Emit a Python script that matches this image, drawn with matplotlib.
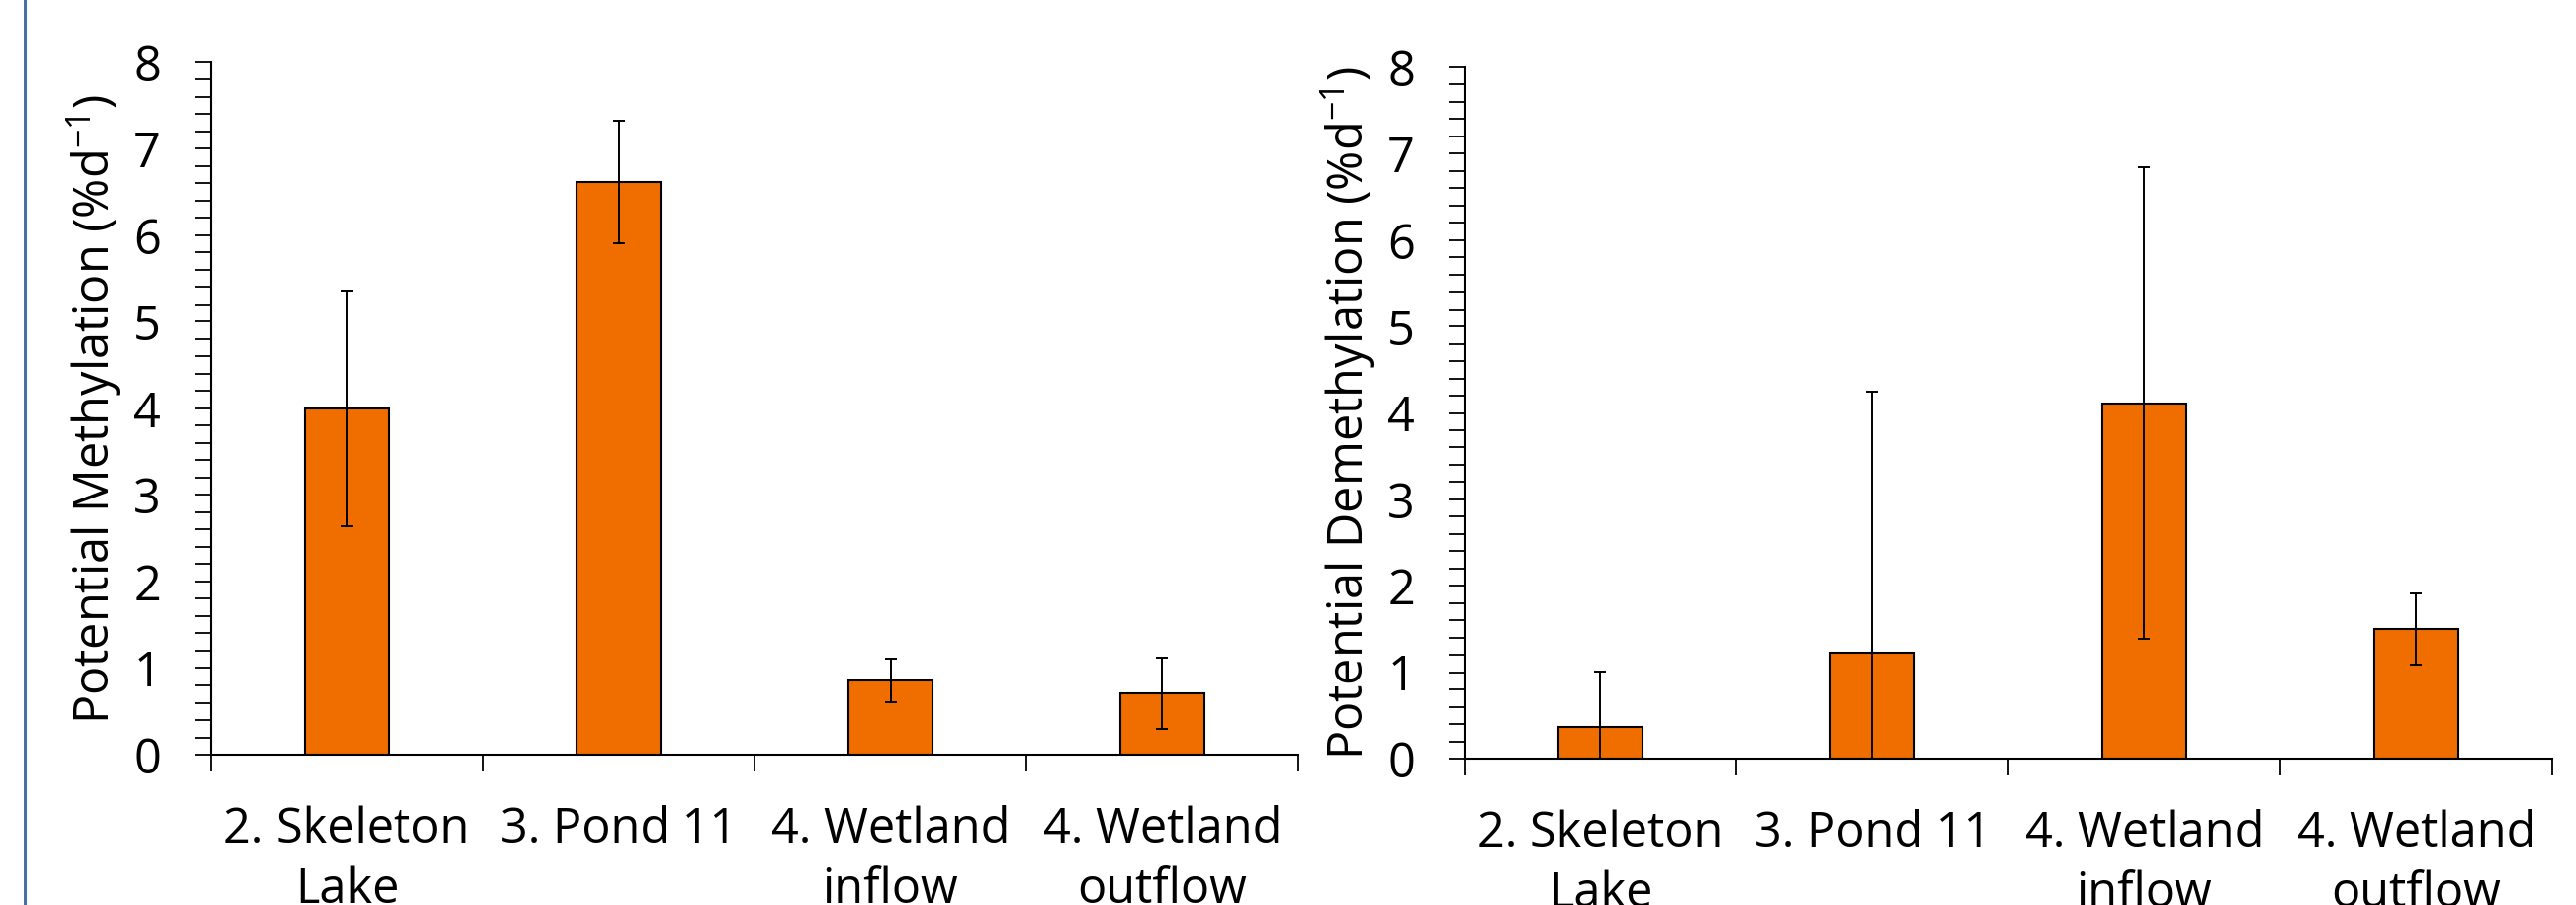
import numpy as np
import matplotlib
matplotlib.use('Agg')
import matplotlib.pyplot as plt
from matplotlib.lines import Line2D
from matplotlib.ticker import MultipleLocator, FixedLocator, NullFormatter

sites = ['2. Skeleton\nLake', '3. Pond 11', '4. Wetland\ninflow', '4. Wetland\noutflow']

meth_mean = [4.00, 6.62, 0.86, 0.71]
meth_err = [1.36, 0.71, 0.25, 0.41]

demeth_mean = [0.37, 1.23, 4.11, 1.50]
demeth_err = [0.64, 3.02, 2.73, 0.41]

ylabels = ['Potential Methylation (%d$^{-1}$)', 'Potential Demethylation (%d$^{-1}$)']

bar_color = '#F06E00'

plt.rcParams['font.family'] = ['Open Sans', 'DejaVu Sans']
plt.rcParams['mathtext.default'] = 'regular'

fig = plt.figure(figsize=(26.05, 9.15), dpi=100)
ax1 = fig.add_axes([0.08177, 0.16612, 0.42226, 0.76503])
ax2 = fig.add_axes([0.56852, 0.16175, 0.42226, 0.76393])

# blue frame line at the left
fig.add_artist(Line2D([25 / 2605, 25 / 2605], [0, 1], color='#4A6FA5', lw=2.2,
                      transform=fig.transFigure))


def draw_panel(ax, means, errs, ylab):
    x = np.arange(len(sites)) + 0.5
    ax.bar(x, means, width=0.3125, color=bar_color, edgecolor='black', linewidth=1.5, zorder=2)
    ax.errorbar(x, means, yerr=errs, fmt='none', ecolor='black', elinewidth=1.4,
                capsize=4.3, capthick=1.4, zorder=3)
    ax.set_xlim(0, len(sites))
    ax.set_ylim(0, 8)

    for s in ['top', 'right']:
        ax.spines[s].set_visible(False)
    for s in ['left', 'bottom']:
        ax.spines[s].set_linewidth(1.5)

    ax.yaxis.set_major_locator(MultipleLocator(1))
    ax.yaxis.set_minor_locator(MultipleLocator(0.2))
    ax.tick_params(axis='y', which='both', direction='out', length=11.5, width=1.3,
                   pad=24.5, labelsize=35)

    # x: ticks on category boundaries, labels at the centres
    ax.xaxis.set_major_locator(FixedLocator(np.arange(len(sites) + 1)))
    ax.xaxis.set_major_formatter(NullFormatter())
    ax.xaxis.set_minor_locator(FixedLocator(x))
    ax.set_xticklabels(sites, minor=True)
    ax.tick_params(axis='x', which='major', direction='out', length=12, width=1.3)
    ax.tick_params(axis='x', which='minor', length=0, pad=37, labelsize=35)
    for lab in ax.get_xticklabels(minor=True):
        lab.set_multialignment('center')
        lab.set_verticalalignment('top')
        lab.set_linespacing(1.32)

    ax.set_ylabel(ylab, fontsize=35)
    ax.yaxis.set_label_coords(-0.079, 0.5)


draw_panel(ax1, meth_mean, meth_err, ylabels[0])
draw_panel(ax2, demeth_mean, demeth_err, ylabels[1])

fig.savefig('out.png', dpi=100, facecolor='white')
